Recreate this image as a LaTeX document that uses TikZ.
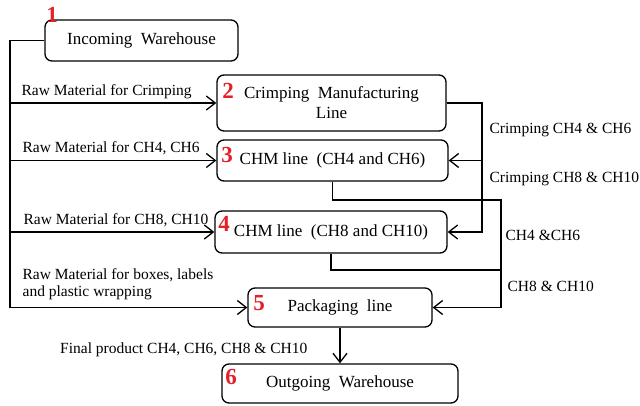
\documentclass[tikz,border=0pt]{standalone}
\usepackage{fontspec}
\setmainfont{Liberation Serif}
\usetikzlibrary{arrows.meta,positioning}
\definecolor{numred}{RGB}{228,32,40}

\begin{document}
\begin{tikzpicture}[x=1pt,y=-1pt,>={Straight Barb[length=9pt,width=14pt]},line width=1.3pt,
  stage/.style={draw,rounded corners=7pt,inner sep=0pt,align=center,font=\fontsize{17}{20}\selectfont},
  flowtag/.style={inner sep=0pt,align=left,font=\fontsize{15.5}{16.5}\selectfont},
  stagenum/.style={inner sep=0pt,text=numred,font=\fontsize{23}{23}\bfseries\selectfont}]
  \useasboundingbox (0,0) rectangle (640,406);
  \node[stage,minimum width=193pt,minimum height=41pt] (Incoming)  at (141.5,40.5) {Incoming\ \ Warehouse};
  \node[stage,minimum width=229pt,minimum height=56pt] (Crimping)  at (331.5,103)  {Crimping\ \ Manufacturing\\Line};
  \node[stage,minimum width=231pt,minimum height=41pt] (CHMsmall)  at (332.5,160.5) {CHM line\ \ (CH4 and CH6)};
  \node[stage,minimum width=232pt,minimum height=42pt] (CHMlarge)  at (331,232)    {CHM line\ \ (CH8 and CH10)};
  \node[stage,minimum width=184pt,minimum height=39pt] (Packaging) at (340,307.5)  {Packaging\ \ line};
  \node[stage,minimum width=236pt,minimum height=39pt] (Outgoing)  at (340,383.5)  {Outgoing\ \ Warehouse};
  \node[stagenum] (NumOne)   at (52,15)   {1};
  \node[stagenum] (NumTwo)   at (228,91)  {2};
  \node[stagenum] (NumThree) at (227,155) {3};
  \node[stagenum] (NumFour)  at (224,224) {4};
  \node[stagenum] (NumFive)  at (259,303) {5};
  \node[stagenum] (NumSix)   at (231,377) {6};
  \coordinate (Feed)     at (10,40.5);
  \coordinate (CrimpOut) at (482,0);
  \coordinate (LineOut)  at (501,0);
  \draw[->] (Incoming.west) -- (Feed) |- (Packaging.west);
  \draw[->] (Feed |- Crimping.west) -- (Crimping.west);
  \draw[->] (Feed |- CHMsmall.west) -- (CHMsmall.west);
  \draw[->] (Feed |- CHMlarge.west) -- (CHMlarge.west);
  \draw[->] (Crimping.east) -| (CrimpOut |- CHMlarge.east) -- (CHMlarge.east);
  \draw[->] (CrimpOut |- CHMsmall.east) -- (CHMsmall.east);
  \draw[->] (CHMsmall.south) |- (LineOut |- 0,200) -- (LineOut |- Packaging.east) -- (Packaging.east);
  \draw (CHMlarge.south) |- (LineOut |- 0,270);
  \draw[->] (Packaging.south) -- (Outgoing.north);
  \node[flowtag,anchor=base west] (TagCrimp)  at (21,96)  {Raw Material for Crimping};
  \node[flowtag,anchor=base west] (TagSmall)  at (22,153) {Raw Material for CH4, CH6};
  \node[flowtag,anchor=base west] (TagLarge)  at (23,225) {Raw Material for CH8, CH10};
  \node[flowtag,anchor=north west] (TagPack)  at (22,268) {Raw Material for boxes, labels\\and plastic wrapping};
  \node[flowtag,anchor=base east] (TagFinal)  at (308,353) {Final product CH4, CH6, CH8 \& CH10};
  \node[flowtag,anchor=base west] (TagCrimpS) at (489,134) {Crimping CH4 \& CH6};
  \node[flowtag,anchor=base west] (TagCrimpL) at (489,183) {Crimping CH8 \& CH10};
  \node[flowtag,anchor=base west] (TagOutS)   at (505,241) {CH4 \&CH6};
  \node[flowtag,anchor=base west] (TagOutL)   at (507,291) {CH8 \& CH10};
\end{tikzpicture}
\end{document}
